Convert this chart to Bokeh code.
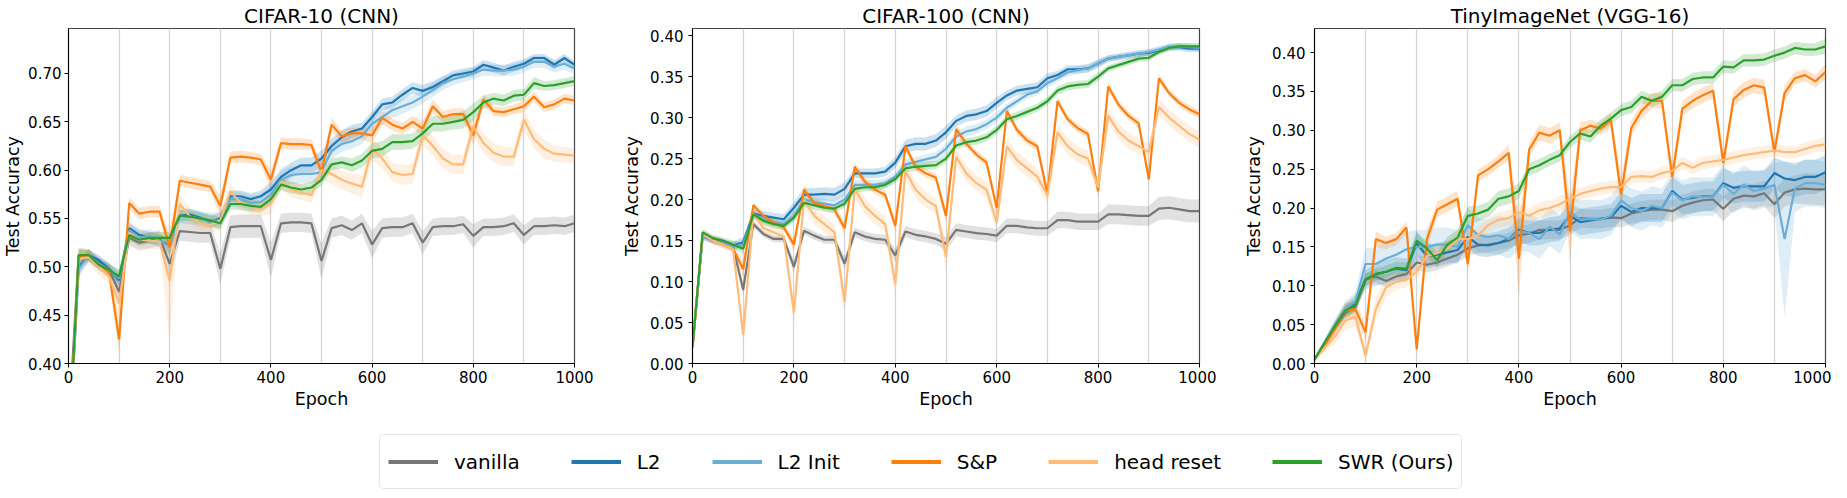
import numpy as np
from bokeh.plotting import figure
from bokeh.layouts import row, column
from bokeh.models import Range1d, FixedTicker, NumeralTickFormatter, Legend, LegendItem
from bokeh.embed import file_html
from bokeh.resources import INLINE

epochs = list(range(0, 1001, 20))
series_names = ["vanilla", "L2", "L2 Init", "S&P", "head reset", "SWR (Ours)"]
panel_titles = ["CIFAR-10 (CNN)", "CIFAR-100 (CNN)", "TinyImageNet (VGG-16)"]
x_ticks = [0, 200, 400, 600, 800, 1000]
reset_lines = [100, 200, 300, 400, 500, 600, 700, 800, 900]
c10_yticks = [0.40, 0.45, 0.50, 0.55, 0.60, 0.65, 0.70]
c100_yticks = [0.00, 0.05, 0.10, 0.15, 0.20, 0.25, 0.30, 0.35, 0.40]
tin_yticks = [0.00, 0.05, 0.10, 0.15, 0.20, 0.25, 0.30, 0.35, 0.40]

# ---------------- CIFAR-10 ----------------
c10_vanilla = [0.33, 0.512,0.512,0.505,0.497,0.474, 0.530,0.525,0.527,0.530,0.503, 0.537,0.536,0.535,0.535,0.498,
               0.541,0.542,0.542,0.542,0.507, 0.545,0.546,0.546,0.545,0.506, 0.540,0.543,0.538,0.545,0.523,
               0.540,0.541,0.541,0.545,0.525, 0.541,0.542,0.542,0.544,0.532, 0.541,0.541,0.542,0.545,0.533,
               0.542,0.542,0.543,0.542,0.545]
c10_vanilla_sd = [0.010, 0.006,0.005,0.005,0.006,0.010, 0.008,0.008,0.008,0.008,0.015, 0.010,0.010,0.010,0.010,0.016,
                  0.012,0.012,0.012,0.012,0.018, 0.010,0.010,0.010,0.010,0.018, 0.010,0.010,0.010,0.010,0.014,
                  0.010,0.010,0.010,0.010,0.012, 0.009,0.009,0.009,0.009,0.012, 0.009,0.009,0.009,0.009,0.010,
                  0.009,0.009,0.009,0.009,0.009]
c10_l2 = [0.30, 0.500,0.512,0.507,0.498,0.486, 0.540,0.533,0.530,0.527,0.522, 0.553,0.554,0.551,0.547,0.550,
          0.573,0.573,0.570,0.573,0.580, 0.593,0.600,0.605,0.605,0.612, 0.625,0.634,0.640,0.643,0.655,
          0.668,0.670,0.678,0.685,0.682, 0.686,0.692,0.698,0.700,0.702, 0.709,0.706,0.703,0.707,0.710,
          0.716,0.716,0.709,0.716,0.709]
c10_l2_sd = [0.010, 0.008,0.006,0.005,0.006,0.008, 0.006,0.006,0.006,0.006,0.008, 0.006,0.006,0.006,0.006,0.006,
             0.006,0.006,0.006,0.006,0.008, 0.008,0.008,0.008,0.008,0.008, 0.008,0.007,0.007,0.006,0.006,
             0.006,0.006,0.006,0.006,0.006, 0.006,0.005,0.005,0.005,0.005, 0.005,0.005,0.005,0.005,0.005,
             0.004,0.004,0.005,0.004,0.004]
c10_l2init = [0.30, 0.497,0.512,0.503,0.497,0.488, 0.538,0.530,0.532,0.527,0.521, 0.553,0.552,0.550,0.548,0.548,
              0.570,0.570,0.566,0.567,0.575, 0.590,0.595,0.596,0.596,0.598, 0.620,0.627,0.630,0.635,0.648,
              0.655,0.662,0.666,0.670,0.676, 0.683,0.690,0.694,0.697,0.700, 0.704,0.703,0.703,0.704,0.707,
              0.712,0.712,0.707,0.710,0.705]
c10_l2init_sd = [0.010, 0.008,0.007,0.006,0.007,0.009, 0.007,0.007,0.007,0.007,0.009, 0.008,0.008,0.008,0.008,0.008,
                 0.008,0.008,0.008,0.008,0.009, 0.009,0.009,0.009,0.009,0.009, 0.009,0.008,0.008,0.008,0.008,
                 0.008,0.008,0.008,0.007,0.007, 0.007,0.007,0.006,0.006,0.006, 0.006,0.006,0.006,0.006,0.006,
                 0.006,0.006,0.006,0.006,0.006]
c10_sp = [0.30, 0.510,0.512,0.502,0.495,0.425, 0.566,0.555,0.557,0.557,0.520, 0.589,0.587,0.585,0.583,0.563,
          0.613,0.614,0.613,0.611,0.590, 0.628,0.627,0.627,0.626,0.598, 0.647,0.635,0.638,0.638,0.636,
          0.654,0.647,0.643,0.650,0.643, 0.666,0.655,0.658,0.658,0.636, 0.673,0.661,0.660,0.663,0.666,
          0.676,0.665,0.668,0.674,0.672]
c10_sp_sd = [0.010, 0.008,0.006,0.006,0.006,0.015, 0.006,0.006,0.006,0.006,0.012, 0.006,0.006,0.006,0.006,0.010,
             0.006,0.006,0.006,0.006,0.010, 0.006,0.006,0.006,0.006,0.010, 0.007,0.006,0.006,0.006,0.008,
             0.007,0.006,0.006,0.006,0.008, 0.007,0.006,0.006,0.006,0.010, 0.006,0.005,0.005,0.005,0.006,
             0.005,0.005,0.005,0.005,0.005]
c10_head = [0.30, 0.508,0.510,0.500,0.490,0.462, 0.535,0.528,0.527,0.526,0.485, 0.565,0.552,0.545,0.543,0.548,
            0.578,0.566,0.562,0.560,0.565, 0.588,0.580,0.577,0.574,0.600, 0.596,0.590,0.586,0.583,0.622,
            0.612,0.598,0.595,0.596,0.636, 0.625,0.612,0.606,0.606,0.645, 0.628,0.618,0.614,0.614,0.652,
            0.632,0.622,0.617,0.616,0.615]
c10_head_sd = [0.010, 0.008,0.008,0.008,0.008,0.020, 0.008,0.008,0.008,0.008,0.060, 0.010,0.008,0.008,0.008,0.010,
               0.008,0.008,0.008,0.008,0.010, 0.008,0.008,0.008,0.008,0.010, 0.010,0.010,0.010,0.012,0.012,
               0.010,0.010,0.010,0.010,0.010, 0.010,0.010,0.010,0.010,0.010, 0.010,0.010,0.010,0.010,0.010,
               0.010,0.010,0.008,0.008,0.008]
c10_swr = [0.30, 0.512,0.512,0.502,0.497,0.490, 0.533,0.528,0.530,0.530,0.530, 0.553,0.552,0.550,0.548,0.545,
           0.565,0.565,0.563,0.562,0.570, 0.585,0.582,0.580,0.582,0.590, 0.606,0.608,0.605,0.610,0.620,
           0.622,0.629,0.629,0.630,0.638, 0.648,0.648,0.650,0.652,0.660, 0.670,0.674,0.672,0.677,0.678,
           0.690,0.687,0.688,0.690,0.692]
c10_swr_sd = [0.010, 0.008,0.006,0.005,0.006,0.007, 0.006,0.006,0.006,0.006,0.006, 0.006,0.006,0.006,0.006,0.006,
              0.006,0.006,0.006,0.006,0.006, 0.006,0.006,0.006,0.006,0.006, 0.006,0.006,0.007,0.007,0.008,
              0.008,0.008,0.008,0.008,0.008, 0.008,0.008,0.008,0.009,0.009, 0.007,0.006,0.006,0.006,0.006,
              0.006,0.005,0.005,0.005,0.005]

# ---------------- CIFAR-100 ----------------
c100_vanilla = [0.02, 0.158,0.152,0.148,0.142,0.090, 0.170,0.158,0.152,0.152,0.118, 0.162,0.156,0.151,0.151,0.122,
                0.160,0.155,0.152,0.151,0.132, 0.161,0.157,0.155,0.152,0.146, 0.163,0.161,0.159,0.158,0.156,
                0.168,0.168,0.166,0.165,0.165, 0.175,0.175,0.173,0.173,0.173, 0.182,0.182,0.181,0.180,0.180,
                0.189,0.190,0.188,0.186,0.186]
c100_vanilla_sd = [0.005, 0.004,0.004,0.004,0.004,0.008, 0.004,0.004,0.004,0.004,0.008, 0.005,0.005,0.005,0.005,0.008,
                   0.006,0.006,0.006,0.006,0.008, 0.007,0.007,0.007,0.007,0.008, 0.008,0.008,0.008,0.008,0.008,
                   0.009,0.009,0.009,0.009,0.009, 0.010,0.010,0.010,0.010,0.010, 0.012,0.012,0.012,0.012,0.012,
                   0.014,0.014,0.014,0.014,0.014]
c100_l2 = [0.02, 0.155,0.150,0.147,0.144,0.148, 0.183,0.180,0.178,0.176,0.190, 0.206,0.206,0.207,0.206,0.213,
           0.232,0.232,0.232,0.234,0.245, 0.265,0.268,0.268,0.272,0.282, 0.296,0.302,0.304,0.308,0.318,
           0.327,0.333,0.335,0.337,0.348, 0.352,0.359,0.359,0.360,0.366, 0.372,0.374,0.376,0.378,0.379,
           0.382,0.386,0.386,0.384,0.384]
c100_l2_sd = [0.004, 0.004,0.004,0.004,0.005,0.006, 0.006,0.006,0.006,0.006,0.007, 0.008,0.008,0.008,0.008,0.008,
              0.006,0.006,0.006,0.006,0.007, 0.008,0.008,0.008,0.008,0.008, 0.007,0.007,0.007,0.007,0.007,
              0.006,0.006,0.006,0.006,0.006, 0.005,0.005,0.005,0.005,0.005, 0.004,0.004,0.004,0.004,0.004,
              0.004,0.004,0.004,0.004,0.004]
c100_l2init = [0.02, 0.155,0.150,0.147,0.143,0.145, 0.182,0.176,0.172,0.170,0.180, 0.200,0.197,0.195,0.193,0.200,
               0.218,0.218,0.218,0.220,0.228, 0.243,0.246,0.249,0.252,0.262, 0.277,0.283,0.286,0.292,0.300,
               0.312,0.320,0.328,0.332,0.342, 0.348,0.355,0.358,0.360,0.366, 0.372,0.374,0.376,0.378,0.380,
               0.383,0.386,0.387,0.386,0.385]
c100_l2init_sd = [0.004, 0.004,0.004,0.004,0.005,0.006, 0.005,0.005,0.005,0.005,0.006, 0.006,0.006,0.006,0.006,0.006,
                  0.006,0.006,0.006,0.006,0.006, 0.006,0.006,0.006,0.006,0.006, 0.006,0.006,0.006,0.006,0.006,
                  0.005,0.005,0.005,0.005,0.005, 0.005,0.005,0.005,0.005,0.005, 0.004,0.004,0.004,0.004,0.004,
                  0.004,0.004,0.004,0.004,0.004]
c100_sp = [0.02, 0.158,0.150,0.145,0.140,0.115, 0.193,0.180,0.172,0.166,0.145, 0.212,0.196,0.192,0.188,0.165,
           0.240,0.222,0.212,0.206,0.168, 0.265,0.240,0.232,0.227,0.180, 0.286,0.268,0.255,0.245,0.190,
           0.308,0.285,0.272,0.265,0.207, 0.320,0.298,0.287,0.280,0.210, 0.338,0.316,0.302,0.293,0.225,
           0.348,0.330,0.318,0.310,0.304]
c100_sp_sd = [0.004, 0.004,0.004,0.004,0.004,0.010, 0.004,0.004,0.004,0.004,0.008, 0.005,0.005,0.005,0.005,0.008,
              0.005,0.005,0.005,0.005,0.008, 0.005,0.005,0.005,0.005,0.008, 0.005,0.005,0.005,0.005,0.008,
              0.005,0.005,0.005,0.005,0.008, 0.005,0.005,0.005,0.005,0.008, 0.005,0.005,0.005,0.005,0.008,
              0.005,0.005,0.005,0.005,0.005]
c100_head = [0.02, 0.158,0.150,0.145,0.140,0.035, 0.183,0.165,0.160,0.155,0.062, 0.200,0.180,0.170,0.160,0.075,
             0.213,0.192,0.180,0.170,0.097, 0.235,0.212,0.200,0.192,0.130, 0.252,0.232,0.220,0.212,0.172,
             0.265,0.248,0.238,0.228,0.205, 0.282,0.265,0.255,0.250,0.215, 0.302,0.283,0.272,0.265,0.258,
             0.313,0.300,0.290,0.280,0.273]
c100_head_sd = [0.004, 0.004,0.004,0.004,0.004,0.012, 0.008,0.008,0.008,0.008,0.015, 0.010,0.010,0.010,0.010,0.015,
                0.010,0.010,0.010,0.010,0.015, 0.010,0.010,0.010,0.010,0.015, 0.010,0.010,0.010,0.010,0.012,
                0.010,0.010,0.010,0.010,0.010, 0.010,0.010,0.010,0.010,0.010, 0.010,0.010,0.010,0.010,0.010,
                0.010,0.010,0.010,0.010,0.010]
c100_swr = [0.02, 0.160,0.153,0.150,0.145,0.140, 0.182,0.174,0.170,0.168,0.178, 0.196,0.193,0.190,0.189,0.195,
            0.213,0.215,0.215,0.218,0.225, 0.238,0.240,0.241,0.242,0.250, 0.266,0.270,0.272,0.276,0.285,
            0.298,0.302,0.307,0.312,0.320, 0.333,0.338,0.340,0.341,0.350, 0.360,0.364,0.368,0.372,0.373,
            0.380,0.385,0.387,0.387,0.387]
c100_swr_sd = [0.004, 0.004,0.004,0.004,0.005,0.006, 0.005,0.005,0.005,0.005,0.005, 0.005,0.005,0.005,0.005,0.005,
               0.005,0.005,0.005,0.005,0.005, 0.005,0.005,0.005,0.005,0.005, 0.005,0.005,0.005,0.005,0.005,
               0.005,0.005,0.005,0.005,0.005, 0.005,0.005,0.005,0.005,0.005, 0.004,0.004,0.004,0.004,0.004,
               0.004,0.004,0.004,0.004,0.004]

# ---------------- TinyImageNet ----------------
tin_vanilla = [0.005, 0.025,0.045,0.065,0.073,0.108, 0.112,0.106,0.112,0.115,0.130, 0.127,0.130,0.135,0.140,0.148,
               0.152,0.153,0.155,0.158,0.165, 0.167,0.172,0.172,0.172,0.178, 0.187,0.186,0.186,0.188,0.187,
               0.193,0.196,0.198,0.198,0.196, 0.203,0.207,0.210,0.211,0.199, 0.212,0.216,0.215,0.219,0.205,
               0.220,0.224,0.225,0.224,0.224]
tin_vanilla_sd = [0.002, 0.004,0.006,0.008,0.008,0.008, 0.008,0.008,0.008,0.008,0.010, 0.010,0.010,0.010,0.010,0.010,
                  0.010,0.010,0.010,0.010,0.012, 0.012,0.012,0.012,0.012,0.012, 0.012,0.012,0.012,0.012,0.012,
                  0.013,0.013,0.013,0.013,0.014, 0.014,0.014,0.014,0.014,0.016, 0.016,0.016,0.016,0.016,0.018,
                  0.018,0.018,0.020,0.020,0.020]
tin_l2 = [0.005, 0.027,0.048,0.068,0.078,0.108, 0.115,0.118,0.122,0.120,0.155, 0.138,0.140,0.143,0.146,0.163,
          0.153,0.152,0.155,0.160,0.172, 0.168,0.168,0.172,0.174,0.190, 0.182,0.184,0.186,0.188,0.203,
          0.195,0.200,0.200,0.200,0.222, 0.211,0.213,0.215,0.215,0.232, 0.226,0.228,0.228,0.228,0.245,
          0.238,0.236,0.240,0.240,0.246]
tin_l2_sd = [0.002, 0.004,0.006,0.008,0.010,0.012, 0.015,0.015,0.015,0.015,0.015, 0.015,0.015,0.015,0.015,0.015,
             0.015,0.015,0.015,0.015,0.015, 0.016,0.016,0.016,0.016,0.016, 0.017,0.017,0.017,0.017,0.017,
             0.018,0.018,0.018,0.018,0.018, 0.019,0.019,0.019,0.019,0.019, 0.020,0.020,0.020,0.020,0.020,
             0.022,0.022,0.022,0.022,0.022]
tin_l2init = [0.005, 0.027,0.050,0.070,0.080,0.128, 0.128,0.135,0.140,0.147,0.150, 0.150,0.153,0.153,0.150,0.178,
              0.165,0.163,0.165,0.160,0.170, 0.168,0.160,0.176,0.166,0.195, 0.185,0.186,0.185,0.190,0.210,
              0.200,0.196,0.203,0.200,0.220, 0.210,0.215,0.214,0.215,0.230, 0.218,0.230,0.222,0.225,0.230,
              0.160,0.225,0.232,0.232,0.230]
tin_l2init_sd = [0.002, 0.005,0.008,0.010,0.012,0.020, 0.022,0.022,0.022,0.022,0.022, 0.022,0.022,0.022,0.022,0.022,
                 0.022,0.022,0.025,0.025,0.025, 0.025,0.025,0.025,0.025,0.025, 0.025,0.025,0.025,0.025,0.025,
                 0.025,0.025,0.025,0.025,0.025, 0.025,0.025,0.025,0.025,0.025, 0.025,0.025,0.025,0.025,0.028,
                 0.100,0.030,0.030,0.030,0.030]
tin_sp = [0.005, 0.022,0.045,0.068,0.070,0.040, 0.160,0.155,0.160,0.175,0.018, 0.160,0.198,0.205,0.212,0.128,
          0.242,0.250,0.260,0.271,0.135, 0.275,0.297,0.293,0.300,0.170, 0.300,0.306,0.302,0.313,0.218,
          0.303,0.325,0.338,0.338,0.240, 0.328,0.338,0.345,0.351,0.258, 0.340,0.352,0.358,0.355,0.272,
          0.348,0.367,0.371,0.363,0.375]
tin_sp_sd = [0.002, 0.004,0.008,0.010,0.010,0.010, 0.010,0.008,0.008,0.008,0.010, 0.012,0.010,0.010,0.010,0.012,
             0.008,0.008,0.008,0.010,0.050, 0.010,0.010,0.010,0.010,0.040, 0.010,0.008,0.008,0.010,0.020,
             0.010,0.010,0.010,0.010,0.015, 0.010,0.010,0.010,0.010,0.012, 0.010,0.010,0.010,0.010,0.012,
             0.010,0.008,0.008,0.008,0.010]
tin_head = [0.005, 0.020,0.035,0.055,0.060,0.010, 0.070,0.098,0.105,0.108,0.118, 0.138,0.142,0.148,0.160,0.160,
            0.165,0.178,0.185,0.187,0.195, 0.190,0.197,0.200,0.205,0.212, 0.218,0.222,0.225,0.227,0.227,
            0.240,0.241,0.240,0.245,0.248, 0.258,0.252,0.258,0.260,0.262, 0.265,0.268,0.270,0.272,0.274,
            0.272,0.272,0.276,0.280,0.282]
tin_head_sd = [0.002, 0.006,0.010,0.012,0.012,0.008, 0.015,0.012,0.010,0.010,0.010, 0.010,0.010,0.010,0.010,0.010,
               0.010,0.010,0.010,0.010,0.010, 0.010,0.010,0.010,0.010,0.010, 0.008,0.008,0.008,0.008,0.008,
               0.008,0.008,0.008,0.008,0.008, 0.008,0.008,0.008,0.008,0.008, 0.008,0.008,0.008,0.008,0.008,
               0.008,0.008,0.008,0.008,0.010]
tin_swr = [0.005, 0.027,0.048,0.068,0.075,0.108, 0.115,0.118,0.123,0.122,0.158, 0.148,0.133,0.153,0.162,0.190,
           0.193,0.198,0.212,0.215,0.222, 0.250,0.255,0.262,0.268,0.285, 0.296,0.292,0.306,0.315,0.326,
           0.330,0.343,0.338,0.343,0.358, 0.358,0.366,0.368,0.368,0.382, 0.381,0.390,0.390,0.391,0.396,
           0.400,0.406,0.404,0.404,0.408]
tin_swr_sd = [0.002, 0.004,0.006,0.008,0.008,0.008, 0.008,0.008,0.008,0.008,0.010, 0.010,0.010,0.010,0.010,0.012,
              0.010,0.010,0.010,0.010,0.010, 0.008,0.008,0.008,0.008,0.008, 0.008,0.008,0.008,0.008,0.008,
              0.008,0.008,0.008,0.008,0.008, 0.008,0.008,0.008,0.008,0.008, 0.008,0.008,0.008,0.008,0.008,
              0.008,0.008,0.008,0.008,0.010]

COLORS = ["#777777", "#1f77b4", "#6aaed6", "#ff7f0e", "#ffbb78", "#2ca02c"]
FONT = "DejaVu Sans"


def make_panel(title, series, y_lo, y_hi, yticks, width, height, bl, br, bt, bb,
               label_standoff, axis_standoff, title_standoff):
    p = figure(width=width, height=height, x_range=Range1d(0, 1000), y_range=Range1d(y_lo, y_hi),
               toolbar_location=None, output_backend="svg",
               min_border_left=bl, min_border_right=br, min_border_top=bt, min_border_bottom=bb)
    p.title.text = title
    p.title.align = "center"
    p.title.text_font = FONT
    p.title.text_font_size = "20px"
    p.title.text_font_style = "normal"
    p.title.text_color = "black"
    p.title.standoff = title_standoff
    for (mean, sd), c in zip(series, COLORS):
        m = np.array(mean)
        s = np.array(sd)
        p.varea(x=epochs, y1=m - s, y2=m + s, fill_color=c, fill_alpha=0.22)
    for (mean, sd), c in zip(series, COLORS):
        p.line(epochs, mean, line_color=c, line_width=2.2)
    p.xaxis.ticker = FixedTicker(ticks=x_ticks)
    p.yaxis.ticker = FixedTicker(ticks=yticks)
    p.yaxis.formatter = NumeralTickFormatter(format="0.00")
    p.xgrid.ticker = FixedTicker(ticks=reset_lines)
    p.xgrid.grid_line_color = "#d4d4d4"
    p.xgrid.grid_line_width = 1.3
    p.ygrid.visible = False
    p.xaxis.axis_label = "Epoch"
    p.yaxis.axis_label = "Test Accuracy"
    for ax in (p.xaxis, p.yaxis):
        ax.axis_label_text_font = FONT
        ax.axis_label_text_font_size = "17.5px"
        ax.axis_label_text_font_style = "normal"
        ax.axis_label_text_color = "black"
        ax.major_label_text_font = FONT
        ax.major_label_text_font_size = "15px"
        ax.major_label_text_color = "black"
        ax.minor_tick_line_color = None
        ax.major_tick_in = 0
        ax.major_tick_out = 4
        ax.major_tick_line_color = "black"
        ax.axis_line_color = "black"
    p.yaxis.major_label_standoff = label_standoff
    p.yaxis.axis_label_standoff = axis_standoff
    p.xaxis.major_label_standoff = 3
    p.xaxis.axis_label_standoff = 3
    p.outline_line_color = "#444444"
    p.outline_line_width = 1.2
    p.background_fill_color = "white"
    return p


s10 = [(c10_vanilla, c10_vanilla_sd), (c10_l2, c10_l2_sd), (c10_l2init, c10_l2init_sd),
       (c10_sp, c10_sp_sd), (c10_head, c10_head_sd), (c10_swr, c10_swr_sd)]
s100 = [(c100_vanilla, c100_vanilla_sd), (c100_l2, c100_l2_sd), (c100_l2init, c100_l2init_sd),
        (c100_sp, c100_sp_sd), (c100_head, c100_head_sd), (c100_swr, c100_swr_sd)]
stin = [(tin_vanilla, tin_vanilla_sd), (tin_l2, tin_l2_sd), (tin_l2init, tin_l2init_sd),
        (tin_sp, tin_sp_sd), (tin_head, tin_head_sd), (tin_swr, tin_swr_sd)]

p1 = make_panel(panel_titles[0], s10, 0.40, 0.7465, c10_yticks, 594, 423, 62, 20, 26, 60, 3, 2, 2)
p2 = make_panel(panel_titles[1], s100, 0.0, 0.4087, c100_yticks, 622, 423, 98, 17, 24, 60, 5, 5, 1)
p3 = make_panel(panel_titles[2], stin, 0.0, 0.431, tin_yticks, 615, 423, 98, 6, 26, 60, 5, 5, 2)

lf = figure(width=1831, height=67, x_range=Range1d(0, 1), y_range=Range1d(0, 1),
            toolbar_location=None, output_backend="svg", x_axis_location=None, y_axis_location=None,
            min_border=0)
lf.grid.visible = False
lf.outline_line_color = None
items = []
for name, c in zip(series_names, COLORS):
    # renderer data lies outside the visible range; only its legend glyph is seen
    r = lf.line(x=[-5, -4], y=[-5, -5], line_color=c, line_width=4)
    items.append(LegendItem(label=name, renderers=[r]))
legend = Legend(items=items, orientation="horizontal", location=(379, 1),
                glyph_width=50, glyph_height=37, label_height=37, label_standoff=16, spacing=51,
                padding=8, margin=0, label_text_font=FONT, label_text_font_size="20px",
                label_text_color="black", border_line_color="#cccccc", border_line_width=1.5,
                background_fill_color="white", background_fill_alpha=1.0)
try:
    legend.border_radius = 5
except Exception:
    pass
lf.add_layout(legend)

layout = column(row(p1, p2, p3), lf)
open("out.html", "w").write(file_html(layout, INLINE))
